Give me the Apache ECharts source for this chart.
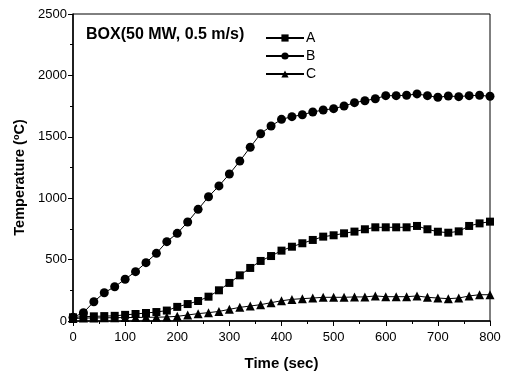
<!DOCTYPE html>
<html>
<head>
<meta charset="utf-8">
<script src="https://cdn.jsdelivr.net/npm/echarts@6/dist/echarts.min.js"></script>
<style>
  html, body {margin: 0; padding: 0; background: #fff;}
  #chart {width: 506px; height: 372px;}
</style>
</head>
<body>
<div id="chart"></div>
<script>
// time points (sec)
const times = [0, 20, 40, 60, 80, 100, 120, 140, 160, 180, 200, 220, 240, 260, 280, 300,
  320, 340, 360, 380, 400, 420, 440, 460, 480, 500, 520, 540, 560, 580, 600,
  620, 640, 660, 680, 700, 720, 740, 760, 780, 800]

// temperature (°C)
const seriesA = [30, 35, 38, 40, 42, 50, 57, 65, 73, 85, 115, 138, 163, 198, 250, 310,
  372, 432, 489, 529, 573, 605, 633, 660, 687, 698, 714, 728, 747, 763, 763,
  763, 763, 774, 747, 727, 719, 730, 774, 795, 809]
const seriesB = [30, 68, 157, 230, 279, 340, 402, 475, 551, 646, 714, 806, 909, 1012, 1100, 1197,
  1302, 1415, 1525, 1588, 1642, 1664, 1680, 1702, 1718, 1729, 1751, 1778, 1794, 1810, 1835,
  1835, 1838, 1849, 1835, 1822, 1832, 1827, 1835, 1838, 1830]
const seriesC = [20, 24, 25, 26, 27, 28, 29, 30, 31, 33, 38, 49, 60, 68, 78, 95,
  111, 122, 133, 149, 165, 176, 182, 187, 193, 193, 193, 196, 196, 204, 198,
  198, 198, 204, 193, 187, 182, 187, 204, 214, 214]

const xTicks = [0, 100, 200, 300, 400, 500, 600, 700, 800]
const yTicks = [0, 500, 1000, 1500, 2000, 2500]

const font = '"Liberation Sans", Arial, sans-serif'

const pairs = (vals) => times.map((t, i) => [t, vals[i]])

const mkSeries = (name, vals, symbol, size) => ({
  name,
  type: 'line',
  data: pairs(vals),
  symbol,
  symbolSize: size,
  showAllSymbol: true,
  itemStyle: {color: '#000'},
  lineStyle: {color: '#000', width: 1},
})

const myChart = echarts.init(document.getElementById('chart'))

const axisCommon = {
  axisLine: {show: true, lineStyle: {color: '#000', width: 1.5}},
  axisTick: {show: true, inside: false, length: 5, lineStyle: {color: '#000'}},
  minorTick: {show: true, splitNumber: 2, length: 3, lineStyle: {color: '#000'}},
  splitLine: {show: false},
  axisLabel: {color: '#000', fontSize: 13, fontFamily: font},
}

myChart.setOption({
  animation: false,
  backgroundColor: '#fff',
  textStyle: {fontFamily: font},
  title: {
    text: 'BOX(50 MW, 0.5 m/s)',
    left: 81,
    top: 22,
    textStyle: {fontSize: 16, fontWeight: 'bold', color: '#000', fontFamily: font},
  },
  legend: {
    orient: 'vertical',
    left: 260,
    top: 26,
    itemWidth: 38,
    itemHeight: 9,
    itemGap: 4,
    data: ['A', 'B', 'C'],
    textStyle: {fontSize: 14, color: '#000', fontFamily: font, padding: [0, 0, 0, -3]},
  },
  grid: {
    left: 73, right: 16, top: 14, bottom: 51,
    outerBoundsMode: 'none',
    show: true, borderColor: '#000', borderWidth: 1,
  },
  xAxis: {
    type: 'value',
    min: 0, max: 800, interval: 100,
    name: 'Time (sec)',
    nameLocation: 'middle',
    nameGap: 35,
    nameTextStyle: {fontSize: 15, fontWeight: 'bold', color: '#000', fontFamily: font},
    ...axisCommon,
    axisLabel: {
      ...axisCommon.axisLabel,
      margin: 10,
      formatter: (v) => (xTicks.includes(v) ? String(v) : ''),
    },
  },
  yAxis: {
    type: 'value',
    min: 0, max: 2500, interval: 500,
    name: '{n|Temperature (}{s|o}{n|C)}',
    nameLocation: 'middle',
    nameGap: 36,
    nameTextStyle: {
      padding: [0, 20, 0, 0],
      rich: {
        n: {fontSize: 14.5, fontWeight: 'bold', color: '#000', fontFamily: font},
        s: {fontSize: 9, fontWeight: 'bold', color: '#000', fontFamily: font, verticalAlign: 'top', padding: [0, 0, 6, 0]},
      },
    },
    ...axisCommon,
    axisLabel: {
      ...axisCommon.axisLabel,
      margin: 6,
      formatter: (v) => (yTicks.includes(v) ? String(v) : ''),
    },
  },
  series: [
    mkSeries('A', seriesA, 'rect', 8),
    mkSeries('B', seriesB, 'circle', 9),
    mkSeries('C', seriesC, 'triangle', 9),
  ],
})
</script>
</body>
</html>
